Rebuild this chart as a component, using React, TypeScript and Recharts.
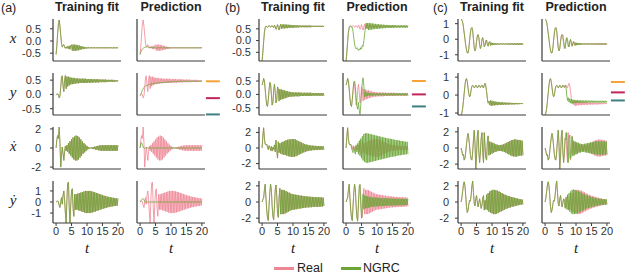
import React from "react";
import { LineChart, Line, XAxis, YAxis, ReferenceLine } from "recharts";

// time axis (step 0.25)
const T = [
  0, 0.25, 0.5, 0.75, 1, 1.25, 1.5, 1.75, 2, 2.25,
  2.5, 2.75, 3, 3.25, 3.5, 3.75, 4, 4.25, 4.5, 4.75,
  5, 5.25, 5.5, 5.75, 6, 6.25, 6.5, 6.75, 7, 7.25,
  7.5, 7.75, 8, 8.25, 8.5, 8.75, 9, 9.25, 9.5, 9.75,
  10, 10.25, 10.5, 10.75, 11, 11.25, 11.5, 11.75, 12, 12.25,
  12.5, 12.75, 13, 13.25, 13.5, 13.75, 14, 14.25, 14.5, 14.75,
  15, 15.25, 15.5, 15.75, 16, 16.25, 16.5, 16.75, 17, 17.25,
  17.5, 17.75, 18, 18.25, 18.5, 18.75, 19, 19.25, 19.5, 19.75,
  20,
];

// ---- system (a)
const realAx = [
  -0.55, -0.2, 0.3, 0.7, 0.86, 0.6, 0.25, -0.1, -0.25, -0.18,
  -0.15, -0.24, -0.3, -0.24, -0.3, -0.22, -0.32, -0.2, -0.34, -0.18,
  -0.16, -0.39, -0.15, -0.4, -0.15, -0.4, -0.16, -0.39, -0.17, -0.38,
  -0.19, -0.36, -0.21, -0.34, -0.23, -0.33, -0.24, -0.32, -0.25, -0.31,
  -0.26, -0.3, -0.26, -0.3, -0.26, -0.3, -0.26, -0.3, -0.26, -0.3,
  -0.26, -0.3, -0.26, -0.3, -0.26, -0.3, -0.26, -0.3, -0.26, -0.3,
  -0.26, -0.3, -0.26, -0.3, -0.26, -0.3, -0.26, -0.3, -0.26, -0.3,
  -0.26, -0.3, -0.26, -0.3, -0.26, -0.3, -0.26, -0.3, -0.26, -0.3,
  -0.26,
];
const ngrcAx = [
  -0.55, -0.45, -0.38, -0.33, -0.3, -0.28, -0.26, -0.25, -0.24, -0.24,
  -0.24, -0.25, -0.25, -0.26, -0.26, -0.27, -0.27, -0.28, -0.28, -0.28,
  -0.28, -0.28, -0.28, -0.28, -0.28, -0.28, -0.28, -0.28, -0.28, -0.28,
  -0.28, -0.28, -0.28, -0.28, -0.28, -0.28, -0.28, -0.28, -0.28, -0.28,
  -0.28, -0.28, -0.28, -0.28, -0.28, -0.28, -0.28, -0.28, -0.28, -0.28,
  -0.28, -0.28, -0.28, -0.28, -0.28, -0.28, -0.28, -0.28, -0.28, -0.28,
  -0.28, -0.28, -0.28, -0.28, -0.28, -0.28, -0.28, -0.28, -0.28, -0.28,
  -0.28, -0.28, -0.28, -0.28, -0.28, -0.28, -0.28, -0.28, -0.28, -0.28,
  -0.28,
];
const realAy = [
  0.0, 0.0, 0.02, -0.02, -0.12, -0.05, 0.25, 0.6, 0.65, 0.3,
  0.1, 0.5, 0.66, 0.2, 0.62, 0.28, 0.62, 0.32, 0.6, 0.35,
  0.58, 0.36, 0.58, 0.37, 0.57, 0.38, 0.56, 0.39, 0.56, 0.39,
  0.55, 0.4, 0.55, 0.4, 0.55, 0.4, 0.55, 0.4, 0.55, 0.4,
  0.54, 0.41, 0.54, 0.41, 0.54, 0.41, 0.54, 0.41, 0.53, 0.42,
  0.53, 0.42, 0.53, 0.42, 0.53, 0.42, 0.52, 0.43, 0.52, 0.43,
  0.52, 0.43, 0.52, 0.43, 0.52, 0.43, 0.51, 0.44, 0.51, 0.44,
  0.51, 0.44, 0.51, 0.44, 0.51, 0.44, 0.5, 0.45, 0.5, 0.45,
  0.5,
];
const ngrcAy = [
  -0.05, 0.0, 0.08, 0.15, 0.2, 0.24, 0.27, 0.29, 0.31, 0.32,
  0.33, 0.34, 0.35, 0.36, 0.36, 0.37, 0.37, 0.38, 0.38, 0.39,
  0.39, 0.4, 0.4, 0.4, 0.41, 0.41, 0.41, 0.42, 0.42, 0.42,
  0.42, 0.43, 0.43, 0.43, 0.43, 0.43, 0.44, 0.44, 0.44, 0.44,
  0.44, 0.44, 0.45, 0.45, 0.45, 0.45, 0.45, 0.45, 0.45, 0.45,
  0.46, 0.46, 0.46, 0.46, 0.46, 0.46, 0.46, 0.46, 0.46, 0.46,
  0.46, 0.46, 0.46, 0.46, 0.46, 0.46, 0.46, 0.46, 0.46, 0.46,
  0.46, 0.46, 0.46, 0.46, 0.46, 0.46, 0.46, 0.46, 0.46, 0.46,
  0.46,
];
const realAdx = [
  0.0, 0.9, 1.3, 1.0, 2.2, 0.5, -2.0, -0.8, 0.1, -0.6,
  -1.3, -0.4, 0.2, -0.3, 0.3, -0.4, 0.5, -0.6, 0.7, -0.8,
  0.9, -1.0, 1.1, -1.2, 1.2, -1.3, 1.3, -1.3, 1.25, -1.2,
  1.1, -1.0, 0.9, -0.8, 0.7, -0.6, 0.5, -0.45, 0.35, -0.3,
  0.22, -0.15, 0.1, -0.06, 0.05, -0.05, 0.06, -0.08, 0.1, -0.12,
  0.14, -0.16, 0.18, -0.2, 0.22, -0.24, 0.26, -0.27, 0.28, -0.29,
  0.3, -0.3, 0.3, -0.3, 0.3, -0.3, 0.3, -0.3, 0.3, -0.3,
  0.3, -0.3, 0.3, -0.3, 0.3, -0.3, 0.3, -0.3, 0.3, -0.3,
  0.3,
];
const ngrcAdx = [
  0, 0.5, 0.55, 0.3, 0.1, 0, -0.05, 0, 0.02, 0,
  0, 0, 0, 0, 0, 0, 0, 0, 0, 0,
  0, 0, 0, 0, 0, 0, 0, 0, 0, 0,
  0, 0, 0, 0, 0, 0, 0, 0, 0, 0,
  0, 0, 0, 0, 0, 0, 0, 0, 0, 0,
  0, 0, 0, 0, 0, 0, 0, 0, 0, 0,
  0, 0, 0, 0, 0, 0, 0, 0, 0, 0,
  0, 0, 0, 0, 0, 0, 0, 0, 0, 0,
  0,
];
const realAdy = [
  0.0, 0.05, 0.1, 0.0, -0.3, -0.5, 0.0, 0.4, -0.2, 0.6,
  1.0, 0.2, -1.0, -1.9, 0.2, 1.7, 1.8, -0.5, -1.9, -0.2,
  1.0, 1.2, -0.6, -1.3, 0.7, -0.7, 0.7, -0.7, 0.75, -0.75,
  0.8, -0.8, 0.85, -0.85, 0.9, -0.9, 0.95, -0.95, 1.0, -1.0,
  1.0, -1.0, 1.0, -1.0, 1.0, -0.98, 0.96, -0.94, 0.92, -0.9,
  0.88, -0.85, 0.82, -0.8, 0.78, -0.75, 0.72, -0.7, 0.68, -0.65,
  0.62, -0.6, 0.58, -0.56, 0.54, -0.52, 0.5, -0.48, 0.46, -0.45,
  0.44, -0.42, 0.4, -0.39, 0.38, -0.37, 0.36, -0.35, 0.34, -0.33,
  0.32,
];
const ngrcAdy = [
  0, 0.1, 0.2, 0.3, 0.3, 0.2, 0.05, -0.05, 0, 0.02,
  0, 0, 0, 0, 0, 0, 0, 0, 0, 0,
  0, 0, 0, 0, 0, 0, 0, 0, 0, 0,
  0, 0, 0, 0, 0, 0, 0, 0, 0, 0,
  0, 0, 0, 0, 0, 0, 0, 0, 0, 0,
  0, 0, 0, 0, 0, 0, 0, 0, 0, 0,
  0, 0, 0, 0, 0, 0, 0, 0, 0, 0,
  0, 0, 0, 0, 0, 0, 0, 0, 0, 0,
  0,
];

// ---- system (b)
const realBx = [
  -0.87, -0.5, -0.05, 0.35, 0.55, 0.62, 0.6, 0.56, 0.6, 0.64,
  0.6, 0.57, 0.62, 0.64, 0.58, 0.55, 0.66, 0.6, 0.48, 0.56,
  0.68, 0.56, 0.45, 0.6, 0.7, 0.5, 0.68, 0.52, 0.69, 0.52,
  0.68, 0.53, 0.68, 0.53, 0.67, 0.54, 0.67, 0.54, 0.66, 0.55,
  0.66, 0.55, 0.65, 0.56, 0.65, 0.56, 0.65, 0.56, 0.64, 0.57,
  0.64, 0.57, 0.64, 0.57, 0.64, 0.57, 0.64, 0.57, 0.64, 0.57,
  0.64, 0.57, 0.64, 0.57, 0.63, 0.58, 0.63, 0.58, 0.63, 0.58,
  0.63, 0.58, 0.63, 0.58, 0.63, 0.58, 0.63, 0.58, 0.63, 0.58,
  0.63,
];
const ngrcBx = [
  -0.87, -0.5, -0.05, 0.35, 0.55, 0.62, 0.62, 0.6, 0.55, 0.4,
  0.1, -0.15, -0.3, -0.35, -0.3, -0.38, -0.42, -0.35, -0.4, -0.3,
  -0.35, -0.2, -0.25, 0.0, 0.3, 0.55, 0.75, 0.5, 0.75, 0.45,
  0.75, 0.46, 0.74, 0.47, 0.73, 0.48, 0.72, 0.49, 0.71, 0.5,
  0.7, 0.5, 0.7, 0.51, 0.69, 0.52, 0.68, 0.52, 0.68, 0.53,
  0.67, 0.53, 0.67, 0.54, 0.66, 0.54, 0.66, 0.54, 0.66, 0.54,
  0.66, 0.54, 0.66, 0.55, 0.65, 0.55, 0.65, 0.55, 0.65, 0.55,
  0.65, 0.55, 0.65, 0.55, 0.65, 0.55, 0.65, 0.55, 0.65, 0.55,
  0.65,
];
const realBy = [
  0.35, 0.45, 0.6, 0.5, 0.2, -0.15, -0.4, -0.45, -0.2, 0.15,
  0.45, 0.4, 0.0, -0.4, -0.3, 0.15, 0.38, 0.1, -0.32, -0.2,
  0.28, 0.2, -0.25, 0.2, -0.2, 0.18, -0.18, 0.16, -0.16, 0.15,
  -0.14, 0.13, -0.12, 0.11, -0.1, 0.1, -0.09, 0.09, -0.08, 0.08,
  -0.08, 0.07, -0.07, 0.07, -0.07, 0.07, -0.07, 0.07, -0.07, 0.07,
  -0.06, 0.06, -0.06, 0.06, -0.06, 0.06, -0.06, 0.06, -0.06, 0.06,
  -0.06, 0.06, -0.06, 0.06, -0.05, 0.05, -0.05, 0.05, -0.05, 0.05,
  -0.05, 0.05, -0.05, 0.05, -0.05, 0.05, -0.05, 0.05, -0.05, 0.05,
  -0.05,
];
const ngrcBy = [
  0.35, 0.45, 0.6, 0.5, 0.2, -0.15, -0.4, -0.45, -0.2, 0.15,
  0.45, 0.5, 0.3, -0.1, -0.45, -0.55, -0.3, -0.6, -0.75, -0.4,
  0.1, 0.45, 0.62, 0.3, -0.1, 0.1, -0.08, 0.08, -0.06, 0.06,
  -0.05, 0.05, -0.05, 0.05, -0.05, 0.05, -0.04, 0.04, -0.04, 0.04,
  -0.04, 0.04, -0.04, 0.04, -0.04, 0.04, -0.04, 0.04, -0.04, 0.04,
  -0.04, 0.04, -0.04, 0.04, -0.04, 0.04, -0.04, 0.04, -0.04, 0.04,
  -0.04, 0.04, -0.04, 0.04, -0.04, 0.04, -0.04, 0.04, -0.04, 0.04,
  -0.04, 0.04, -0.04, 0.04, -0.04, 0.04, -0.04, 0.04, -0.04, 0.04,
  -0.04,
];
const realBdx = [
  0.0, 1.5, 2.6, 1.2, 0.5, 0.4, 0.5, 0.1, -0.2, 0.3,
  0.1, -0.3, 0.2, -0.4, 0.1, -0.2, 0.4, -0.5, 1.0, -0.3,
  -1.3, 0.8, -0.6, 0.6, -0.7, 0.7, -0.8, 0.8, -0.9, 0.9,
  -0.9, 1.0, -1.0, 1.05, -1.05, 1.1, -1.1, 1.1, -1.15, 1.15,
  -1.15, 1.15, -1.1, 1.1, -1.05, 1.0, -0.95, 0.9, -0.85, 0.8,
  -0.75, 0.7, -0.65, 0.6, -0.56, 0.52, -0.48, 0.45, -0.42, 0.4,
  -0.38, 0.36, -0.34, 0.32, -0.3, 0.3, -0.28, 0.28, -0.27, 0.27,
  -0.26, 0.26, -0.25, 0.25, -0.24, 0.24, -0.23, 0.23, -0.22, 0.22,
  -0.22,
];
const ngrcBdx = [
  0.0, 1.5, 2.6, 1.2, 0.5, 0.4, 0.5, 0.1, -0.3, -0.6,
  0.2, -0.4, -0.8, 0.4, -0.5, 0.6, -0.8, 0.9, -1.0, 1.2,
  -1.3, 1.5, -1.6, 1.8, -1.8, 1.9, -1.9, 1.9, -1.9, 1.85,
  -1.85, 1.8, -1.8, 1.75, -1.75, 1.7, -1.7, 1.65, -1.65, 1.6,
  -1.6, 1.55, -1.55, 1.5, -1.5, 1.45, -1.45, 1.4, -1.4, 1.35,
  -1.35, 1.3, -1.3, 1.25, -1.25, 1.2, -1.2, 1.2, -1.15, 1.15,
  -1.1, 1.1, -1.1, 1.05, -1.05, 1.0, -1.0, 1.0, -0.95, 0.95,
  -0.95, 0.9, -0.9, 0.9, -0.85, 0.85, -0.85, 0.8, -0.8, 0.8,
  -0.8,
];
const realBdy = [
  0.0, 0.3, 0.5, 1.5, 2.2, 0.5, -1.0, -2.0, -2.3, -0.5,
  1.2, 2.2, 1.5, -0.5, -1.8, -2.2, -0.5, 1.5, 2.1, 0.8,
  -1.4, -1.9, 0.5, 1.7, -1.5, 1.5, -1.5, 1.5, -1.5, 1.45,
  -1.4, 1.35, -1.3, 1.25, -1.2, 1.15, -1.1, 1.05, -1.0, 0.98,
  -0.96, 0.94, -0.92, 0.9, -0.9, 0.88, -0.86, 0.84, -0.82, 0.8,
  -0.8, 0.78, -0.76, 0.75, -0.74, 0.72, -0.7, 0.7, -0.68, 0.68,
  -0.66, 0.66, -0.65, 0.64, -0.64, 0.63, -0.62, 0.62, -0.61, 0.6,
  -0.6, 0.6, -0.6, 0.59, -0.58, 0.58, -0.57, 0.56, -0.55, 0.54,
  -0.5,
];
const ngrcBdy = [
  0.0, 0.3, 0.5, 1.5, 2.2, 0.5, -1.0, -2.0, -2.3, -0.5,
  1.2, 2.2, 1.5, -0.5, -2.0, -2.4, 0.0, 2.0, 2.2, -0.5,
  -2.0, -0.8, 1.0, -0.9, 0.8, -0.8, 0.75, -0.75, 0.7, -0.7,
  0.65, -0.65, 0.6, -0.6, 0.58, -0.58, 0.56, -0.56, 0.55, -0.55,
  0.54, -0.54, 0.52, -0.52, 0.5, -0.5, 0.5, -0.5, 0.48, -0.48,
  0.47, -0.47, 0.46, -0.46, 0.45, -0.45, 0.45, -0.45, 0.44, -0.44,
  0.43, -0.43, 0.42, -0.42, 0.42, -0.42, 0.41, -0.41, 0.4, -0.4,
  0.4, -0.4, 0.4, -0.4, 0.39, -0.39, 0.38, -0.38, 0.38, -0.38,
  0.37,
];

// ---- system (c)
const realCx = [
  1.3, 1.25, 1.1, 0.8, 0.4, 0.0, -0.4, -0.7, -0.88, -0.88,
  -0.6, -0.1, 0.4, 0.7, 0.75, 0.55, 0.0, -0.55, -0.75, -0.6,
  -0.15, 0.2, 0.3, 0.1, -0.35, -0.6, -0.45, 0.0, 0.1, -0.15,
  -0.5, -0.4, -0.1, -0.05, -0.35, -0.45, -0.2, -0.15, -0.4, -0.22,
  -0.38, -0.24, -0.37, -0.25, -0.36, -0.26, -0.35, -0.27, -0.35, -0.27,
  -0.34, -0.27, -0.34, -0.27, -0.34, -0.27, -0.34, -0.27, -0.34, -0.27,
  -0.34, -0.27, -0.35, -0.26, -0.35, -0.26, -0.35, -0.26, -0.36, -0.26,
  -0.36, -0.26, -0.36, -0.26, -0.36, -0.26, -0.36, -0.26, -0.36, -0.26,
  -0.36,
];
const ngrcCx = [
  1.3, 1.25, 1.1, 0.8, 0.4, 0.0, -0.4, -0.7, -0.88, -0.88,
  -0.6, -0.1, 0.4, 0.7, 0.75, 0.55, 0.0, -0.55, -0.75, -0.6,
  -0.15, 0.2, 0.3, 0.25, -0.1, -0.5, -0.6, -0.2, 0.1, 0.0,
  -0.35, -0.5, -0.2, 0.0, -0.2, -0.45, -0.3, -0.15, -0.3, -0.4,
  -0.22, -0.38, -0.24, -0.37, -0.25, -0.36, -0.26, -0.35, -0.27, -0.34,
  -0.27, -0.34, -0.27, -0.34, -0.27, -0.34, -0.27, -0.34, -0.27, -0.34,
  -0.27, -0.34, -0.27, -0.34, -0.27, -0.34, -0.27, -0.34, -0.27, -0.34,
  -0.27, -0.34, -0.27, -0.34, -0.27, -0.34, -0.27, -0.34, -0.27, -0.34,
  -0.27,
];
const realCy = [
  -1.11, -1.0, -0.75, -0.35, 0.1, 0.55, 0.85, 0.92, 0.75, 0.4,
  0.05, -0.1, 0.0, 0.3, 0.5, 0.55, 0.5, 0.4, 0.45, 0.55,
  0.5, 0.4, 0.45, 0.55, 0.5, 0.42, 0.5, 0.56, 0.45, 0.4,
  0.55, 0.65, 0.5, 0.2, -0.2, -0.45, -0.35, -0.55, -0.3, -0.6,
  -0.32, -0.58, -0.35, -0.57, -0.36, -0.56, -0.38, -0.56, -0.38, -0.55,
  -0.4, -0.55, -0.4, -0.54, -0.41, -0.54, -0.42, -0.53, -0.42, -0.53,
  -0.43, -0.53, -0.43, -0.52, -0.43, -0.52, -0.44, -0.52, -0.44, -0.52,
  -0.44, -0.51, -0.44, -0.51, -0.45, -0.51, -0.45, -0.5, -0.45, -0.5,
  -0.45,
];
const ngrcCy = [
  -1.11, -1.0, -0.75, -0.35, 0.1, 0.55, 0.85, 0.92, 0.75, 0.4,
  0.05, -0.1, 0.0, 0.3, 0.5, 0.55, 0.5, 0.4, 0.45, 0.55,
  0.5, 0.4, 0.45, 0.55, 0.5, 0.42, 0.55, 0.45, 0.0, -0.3,
  -0.15, -0.4, -0.2, -0.45, -0.22, -0.48, -0.25, -0.46, -0.27, -0.45,
  -0.28, -0.44, -0.28, -0.44, -0.29, -0.44, -0.29, -0.43, -0.3, -0.43,
  -0.3, -0.43, -0.3, -0.42, -0.3, -0.42, -0.31, -0.42, -0.31, -0.42,
  -0.31, -0.42, -0.31, -0.42, -0.32, -0.42, -0.32, -0.42, -0.32, -0.42,
  -0.32, -0.42, -0.32, -0.42, -0.32, -0.42, -0.32, -0.42, -0.32, -0.42,
  -0.32,
];
const realCdx = [
  0.0, -0.4, -0.9, -0.8, -1.5, -1.3, -0.5, 0.5, 1.3, 1.8,
  1.2, 0.2, -0.8, -1.4, -1.5, -0.5, 1.0, 2.2, 0.5, -2.6,
  -1.0, 1.5, 2.2, -0.5, -1.8, -0.5, 1.2, 1.9, -0.6, -1.8,
  1.9, 0.2, -1.2, -1.5, 0.8, 1.5, -0.9, 0.8, -0.8, 0.7,
  -0.7, 0.65, -0.6, 0.55, -0.5, 0.45, -0.42, 0.4, -0.38, 0.36,
  -0.36, 0.36, -0.38, 0.4, -0.42, 0.45, -0.5, 0.55, -0.6, 0.65,
  -0.7, 0.75, -0.8, 0.85, -0.9, 0.95, -1.0, 1.0, -1.05, 1.05,
  -1.05, 1.05, -1.05, 1.0, -1.0, 1.0, -0.95, 0.95, -0.95, 0.9,
  -0.9,
];
const ngrcCdx = [
  0.0, -0.4, -0.9, -0.8, -1.5, -1.3, -0.5, 0.5, 1.3, 1.8,
  1.2, 0.2, -0.8, -1.4, -1.5, -0.5, 1.0, 2.2, 0.5, -2.6,
  -1.0, 1.5, 2.2, -0.5, -1.8, -0.5, 1.2, 1.0, 1.9, -0.4,
  -1.8, 1.2, 1.6, -1.3, -0.8, 1.4, -1.0, 0.9, -0.9, 0.8,
  -0.8, 0.7, -0.7, 0.65, -0.6, 0.55, -0.55, 0.5, -0.5, 0.5,
  -0.5, 0.52, -0.54, 0.56, -0.58, 0.6, -0.62, 0.64, -0.66, 0.68,
  -0.7, 0.72, -0.74, 0.76, -0.78, 0.8, -0.8, 0.82, -0.82, 0.84,
  -0.84, 0.84, -0.84, 0.84, -0.84, 0.82, -0.82, 0.8, -0.8, 0.8,
  -0.8,
];
const realCdy = [
  0.0, 0.5, 1.3, 2.1, 2.5, 2.0, 0.8, -0.6, -1.3, -1.0,
  -0.3, 0.2, 0.1, 0.8, 2.0, 2.6, 1.2, -0.2, -0.5, 0.4,
  0.8, 0.0, -0.6, -0.1, 0.4, -0.2, -0.8, -0.4, 0.5, 0.8,
  -1.0, 0.2, -0.9, 0.9, -1.0, 1.1, -1.2, 1.3, -1.3, 1.4,
  -1.4, 1.5, -1.5, 1.5, -1.5, 1.45, -1.45, 1.4, -1.35, 1.3,
  -1.25, 1.2, -1.15, 1.1, -1.05, 1.0, -0.95, 0.9, -0.85, 0.8,
  -0.78, 0.75, -0.72, 0.7, -0.66, 0.62, -0.6, 0.58, -0.55, 0.52,
  -0.5, 0.48, -0.45, 0.42, -0.4, 0.38, -0.36, 0.34, -0.32, 0.3,
  -0.3,
];
const ngrcCdy = [
  0.0, 0.5, 1.3, 2.1, 2.5, 2.0, 0.8, -0.6, -1.3, -1.0,
  -0.3, 0.2, 0.1, 0.8, 2.0, 2.6, 1.2, -0.2, -0.5, 0.4,
  0.8, 0.0, -0.6, -0.1, 0.4, 0.3, -0.7, 0.6, -0.9, 0.9,
  -1.0, 1.1, -1.2, 1.3, -1.4, 1.5, -1.5, 1.55, -1.5, 1.5,
  -1.45, 1.4, -1.4, 1.35, -1.3, 1.25, -1.2, 1.15, -1.1, 1.05,
  -1.0, 0.95, -0.9, 0.85, -0.8, 0.78, -0.75, 0.72, -0.7, 0.66,
  -0.62, 0.6, -0.58, 0.55, -0.52, 0.5, -0.48, 0.46, -0.44, 0.42,
  -0.4, 0.4, -0.38, 0.38, -0.36, 0.36, -0.35, 0.35, -0.34, 0.34,
  -0.33,
];

// fixed points shown beside the y prediction panels
const fixedA = [0.46, -0.13, -0.7];
const fixedB = [0.5, 0.0, -0.45];
const fixedC = [0.73, 0.15, -0.3];

const xTicks = [0, 5, 10, 15, 20];
const PINK = "#EF8696";
const GREEN = "#6BA636";
const FIXED_COLORS = ["#F5A33A", "#C2245E", "#3E7F82"];
const AXIS = "#3a3a3a";
const SANS = "'Liberation Sans', Arial, Helvetica, sans-serif";
const SERIF = "'Liberation Serif', 'DejaVu Serif', serif";

const PW = 68;
const PH = 42;
const ROW_TOP = [19, 73, 127, 181];
const MT = 8;

type PanelProps = {
  real: number[];
  ngrc: number[];
  x0: number;
  row: number;
  domain: [number, number];
  ticks: number[];
  dec: number;
  labels: boolean;
  gap: number;
  marks?: number[];
};

const Panel: React.FC<PanelProps> = ({ real, ngrc, x0, row, domain, ticks, dec, labels, gap, marks }) => {
  const rows = T.map((t, i) => ({ t, real: real[i], ngrc: ngrc[i] }));
  const bottom = row === 3;
  const y0 = ROW_TOP[row];
  const YW = 36;
  const axisStyle = { stroke: AXIS, strokeWidth: 1.2 };
  const mb = bottom ? 0 : 8;
  const xh = bottom ? 30 : 1;
  return (
    <div style={{ position: "absolute", left: x0 - YW, top: y0 - MT }}>
      <LineChart
        width={YW + PW + 20}
        height={MT + PH + xh + mb}
        data={rows}
        margin={{ top: MT, right: 20, bottom: mb, left: 0 }}
      >
        <XAxis
          type="number"
          dataKey="t"
          domain={[-1, 21]}
          ticks={xTicks}
          interval={0}
          allowDataOverflow
          height={xh}
          axisLine={axisStyle}
          tick={bottom ? { fontSize: 11, fill: "#333" } : false}
          tickLine={bottom ? { stroke: AXIS } : false}
          tickSize={3}
          tickMargin={1}
        />
        <YAxis
          type="number"
          domain={domain}
          ticks={ticks}
          interval={0}
          allowDataOverflow
          width={YW}
          axisLine={axisStyle}
          tick={labels ? { fontSize: 11, fill: "#333" } : false}
          tickLine={labels ? { stroke: AXIS } : false}
          tickSize={3}
          tickMargin={gap}
          tickFormatter={(v: number) => v.toFixed(dec)}
        />
        <Line type="linear" dataKey="real" stroke={PINK} strokeWidth={0.8} dot={false} isAnimationActive={false} />
        <Line type="linear" dataKey="ngrc" stroke={GREEN} strokeWidth={0.8} dot={false} isAnimationActive={false} />
        {marks &&
          marks.map((m, i) => (
            <ReferenceLine
              key={i}
              segment={[{ x: 21.3, y: m }, { x: 25.8, y: m }]}
              stroke={FIXED_COLORS[i]}
              strokeWidth={2}
              ifOverflow="visible"
            />
          ))}
      </LineChart>
    </div>
  );
};

type SysSpec = {
  tag: string;
  tagX: number;
  xTrain: number;
  xPred: number;
  gap: number;
  series: { real: number[]; ngrc: number[]; domain: [number, number]; ticks: number[]; dec: number }[];
  fixed: number[];
};

const systems: SysSpec[] = [
  {
    tag: "(a)", tagX: 1, xTrain: 53, xPred: 137, gap: 9, fixed: fixedA,
    series: [
      { real: realAx, ngrc: ngrcAx, domain: [-0.82, 0.9], ticks: [-0.5, 0, 0.5], dec: 1 },
      { real: realAy, ngrc: ngrcAy, domain: [-0.72, 0.75], ticks: [-0.5, 0, 0.5], dec: 1 },
      { real: realAdx, ngrc: ngrcAdx, domain: [-2.2, 2.2], ticks: [-2, 0, 2], dec: 0 },
      { real: realAdy, ngrc: ngrcAdy, domain: [-1.9, 1.9], ticks: [-1, 0, 1], dec: 0 },
    ],
  },
  {
    tag: "(b)", tagX: 225, xTrain: 259, xPred: 343, gap: 5, fixed: fixedB,
    series: [
      { real: realBx, ngrc: ngrcBx, domain: [-0.87, 0.92], ticks: [-0.5, 0, 0.5], dec: 1 },
      { real: realBy, ngrc: ngrcBy, domain: [-0.77, 0.8], ticks: [-0.5, 0, 0.5], dec: 1 },
      { real: realBdx, ngrc: ngrcBdx, domain: [-2.7, 2.7], ticks: [-2, 0, 2], dec: 0 },
      { real: realBdy, ngrc: ngrcBdy, domain: [-2.6, 2.6], ticks: [-2, 0, 2], dec: 0 },
    ],
  },
  {
    tag: "(c)", tagX: 433, xTrain: 458, xPred: 542, gap: 6, fixed: fixedC,
    series: [
      { real: realCx, ngrc: ngrcCx, domain: [-1.4, 1.3], ticks: [-1, 0, 1], dec: 0 },
      { real: realCy, ngrc: ngrcCy, domain: [-1.11, 1.23], ticks: [-1, 0, 1], dec: 0 },
      { real: realCdx, ngrc: ngrcCdx, domain: [-2.6, 2.6], ticks: [-2, 0, 2], dec: 0 },
      { real: realCdy, ngrc: ngrcCdy, domain: [-2.6, 2.6], ticks: [-2, 0, 2], dec: 0 },
    ],
  },
];

const varLabels = ["x", "y", "\u1E8B", "\u1E8F"];

const abs = (left: number, top: number, extra: React.CSSProperties = {}): React.CSSProperties => ({
  position: "absolute",
  left,
  top,
  whiteSpace: "nowrap",
  ...extra,
});

export default function App() {
  return (
    <div
      style={{
        position: "absolute",
        left: 0,
        top: 0,
        width: 625,
        height: 278,
        overflow: "hidden",
        background: "#fff",
        fontFamily: SANS,
        color: "#222",
      }}
    >
      {systems.map((s) => (
        <React.Fragment key={s.tag}>
          <div style={abs(s.tagX, 1, { fontSize: 12.5 })}>{s.tag}</div>
          <div style={abs(s.xTrain, 0, { width: PW, textAlign: "center", fontSize: 12.5, fontWeight: "bold" })}>
            Training fit
          </div>
          <div style={abs(s.xPred, 0, { width: PW, textAlign: "center", fontSize: 12.5, fontWeight: "bold" })}>
            Prediction
          </div>
          {s.series.map((sr, r) => (
            <React.Fragment key={r}>
              <Panel
                real={sr.real}
                ngrc={sr.real}
                x0={s.xTrain}
                row={r}
                domain={sr.domain}
                ticks={sr.ticks}
                dec={sr.dec}
                labels
                gap={s.gap}
              />
              <Panel
                real={sr.real}
                ngrc={sr.ngrc}
                x0={s.xPred}
                row={r}
                domain={sr.domain}
                ticks={sr.ticks}
                dec={sr.dec}
                labels={false}
                gap={s.gap}
                marks={r === 1 ? s.fixed : undefined}
              />
            </React.Fragment>
          ))}
          {[s.xTrain, s.xPred].map((x) => (
            <div
              key={x}
              style={abs(x, 240, { width: PW, textAlign: "center", fontFamily: SERIF, fontStyle: "italic", fontSize: 15 })}
            >
              t
            </div>
          ))}
        </React.Fragment>
      ))}
      {varLabels.map((v, i) => (
        <div
          key={v}
          style={abs(3, ROW_TOP[i] + PH / 2 - 10, { width: 20, textAlign: "center", fontFamily: SERIF, fontStyle: "italic", fontSize: 15 })}
        >
          {v}
        </div>
      ))}
      <div style={abs(274, 267, { width: 20, height: 3, background: PINK })} />
      <div style={abs(297, 261, { fontSize: 12.5 })}>Real</div>
      <div style={abs(341, 267, { width: 20, height: 3, background: GREEN })} />
      <div style={abs(363, 261, { fontSize: 12.5 })}>NGRC</div>
    </div>
  );
}
